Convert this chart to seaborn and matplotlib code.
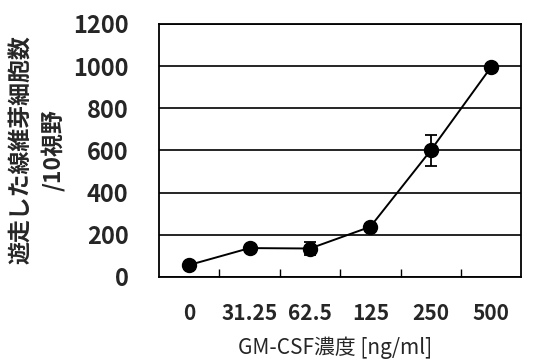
import numpy as np
import pandas as pd
import matplotlib
matplotlib.use("Agg")
import matplotlib.pyplot as plt
import seaborn as sns

# -------------------------------
# Data
# -------------------------------
concentrations = ['0', '31.25', '62.5', '125', '250', '500']
cell_counts = [57, 137, 135, 238, 600, 995]
count_err = [6, 12, 32, 12, 72, 16]
y_ticks = [0, 200, 400, 600, 800, 1000, 1200]

df = pd.DataFrame({'conc': concentrations, 'count': cell_counts, 'err': count_err})

# -------------------------------
# Style
# -------------------------------
sns.set_theme(style='white')
plt.rcParams['font.family'] = ['Noto Sans CJK JP', 'DejaVu Sans']

W, H = 534, 363
fig = plt.figure(figsize=(W / 100, H / 100), dpi=100)
ax = fig.add_axes([0.298, 0.237, 0.678, 0.697])

# -------------------------------
# Line + markers
# -------------------------------
sns.pointplot(data=df, x='conc', y='count', order=concentrations, errorbar=None,
              color='black', markers='o', markersize=10, linewidth=1.4, ax=ax)
xpos = np.arange(len(concentrations))
ax.errorbar(xpos, df['count'], yerr=df['err'], fmt='none', ecolor='black',
            elinewidth=1.3, capsize=4, capthick=1.3, zorder=5)

# -------------------------------
# Axes formatting
# -------------------------------
ax.set_xlim(-0.5, len(concentrations) - 0.5)
ax.set_ylim(0, 1200)
ax.set_yticks(y_ticks)
ax.set_yticklabels([str(v) for v in y_ticks], fontsize=17, fontweight='bold')
ax.set_xticks(xpos)
ax.set_xticklabels(concentrations, fontsize=15, fontweight='bold')
ax.set_xticks(xpos[:-1] + 0.5, minor=True)
ax.tick_params(axis='x', which='major', length=0, pad=19)
ax.tick_params(axis='x', which='minor', direction='in', length=6, width=1, color='black', bottom=True)
ax.tick_params(axis='y', length=0, pad=22)

ax.grid(axis='y', color='black', linewidth=1.2)
for s in ax.spines.values():
    s.set_color('black')
    s.set_linewidth(1.3)

ax.set_xlabel('')
ax.set_ylabel('')

# axis titles placed in figure pixels
fig.text(335 / W, 1 - 348 / H, 'GM-CSF濃度 [ng/ml]', fontsize=15,
         ha='center', va='center')
fig.text(22 / W, 1 - 150 / H, '遊走した線維芽細胞数', fontsize=16.5, fontweight='bold',
         rotation=90, ha='center', va='center')
fig.text(53 / W, 1 - 150 / H, '/10視野', fontsize=16.5, fontweight='bold',
         rotation=90, ha='center', va='center')

fig.savefig('out.png', dpi=100)
